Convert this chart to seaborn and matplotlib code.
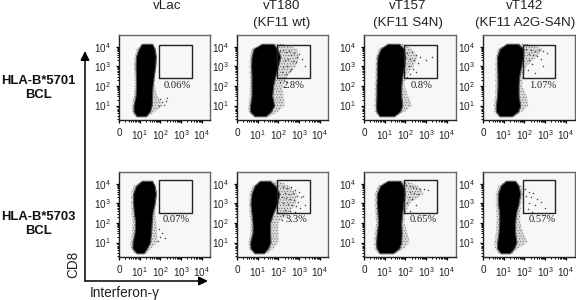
import matplotlib
matplotlib.use('Agg')
import matplotlib.pyplot as plt
from matplotlib.ticker import FixedLocator, NullFormatter
import numpy as np
import pandas as pd
import seaborn as sns

W, H = 576, 300

titles = ["vLac", "vT180\n(KF11 wt)", "vT157\n(KF11 S4N)", "vT142\n(KF11 A2G-S4N)"]
title_x = [167, 282, 408, 525]
row_names = ["HLA-B*5701\nBCL", "HLA-B*5703\nBCL"]
row_label_y = [88, 224]
panel_left = [119, 237, 364, 483]
panel_right = [210, 328, 456, 575]
panel_top = [35, 172]
panel_bottom = [120, 257]

percent_labels = [["0.06%", "2.8%", "0.8%", "1.07%"], ["0.07%", "3.3%", "0.65%", "0.57%"]]
percent_x = [[2.8, 2.75, 2.8, 2.9], [2.75, 2.85, 2.85, 2.85]]
percent_y = [2.0, 2.15]
gate_x = [[1.93, 3.52], [1.95, 3.53], [1.95, 3.54], [1.93, 3.5]]
gate_y = [[2.39, 4.1], [2.5, 4.19]]

# cd8 levels the (left, right) edges below were read at
cd8_levels = [4.15, 3.9, 3.5, 3, 2.5, 2, 1.5, 1, .7, .45]

# row 5701
halo_a1 = [(1.1,1.6),(.95,1.72),(.82,1.78),(.8,1.75),(.82,1.68),(.82,1.62),(.8,1.6),(.7,1.58),(.7,1.5),(.85,1.3)]
outer_a1 = [(1.2,1.55),(.85,1.78),(.75,1.82),(.72,1.8),(.75,1.75),(.75,1.72),(.72,1.85),(.62,2.1),(.62,1.75),(.75,1.4)]
halo_b1 = [(1.2,1.75),(.8,1.95),(.7,2.1),(.68,1.98),(.7,1.85),(.7,1.75),(.7,1.7),(.63,1.8),(.62,1.65),(.85,1.4)]
outer_b1 = [(1.3,2.2),(.72,2.9),(.62,3.0),(.6,2.85),(.62,2.45),(.62,2.2),(.6,2.25),(.55,2.3),(.55,2.0),(.75,1.6)]
halo_c1 = [(1.15,1.7),(.8,1.92),(.65,2.0),(.62,1.95),(.62,1.85),(.6,1.8),(.6,1.8),(.58,1.85),(.6,1.75),(.75,1.45)]
outer_c1 = [(1.2,1.9),(.7,2.3),(.58,2.6),(.55,2.4),(.55,2.0),(.52,1.95),(.52,2.15),(.5,2.3),(.52,2.0),(.7,1.55)]
halo_d1 = [(1.15,1.7),(.8,1.95),(.68,1.95),(.68,1.85),(.7,1.75),(.7,1.72),(.68,1.72),(.62,1.8),(.62,1.7),(.8,1.4)]
outer_d1 = [(1.2,2.1),(.72,2.9),(.62,2.6),(.6,2.1),(.6,1.95),(.6,1.9),(.58,2.1),(.52,2.2),(.55,1.9),(.7,1.55)]

# row 5703
halo_a2 = [(1.1,1.6),(.82,1.72),(.68,1.78),(.68,1.72),(.72,1.62),(.78,1.58),(.75,1.55),(.65,1.5),(.65,1.35),(.85,1.2)]
outer_a2 = [(1.2,1.55),(.72,1.78),(.58,1.85),(.58,1.8),(.6,1.75),(.65,1.8),(.62,1.85),(.55,1.85),(.55,1.55),(.75,1.35)]
halo_b2 = [(1.1,1.6),(.85,1.85),(.7,2.05),(.65,1.95),(.7,1.75),(.75,1.6),(.75,1.6),(.63,1.62),(.65,1.5),(.85,1.3)]
outer_b2 = [(1.2,2.0),(.75,2.5),(.6,2.9),(.58,2.85),(.6,2.5),(.65,2.0),(.65,2.0),(.55,2.0),(.58,1.75),(.78,1.5)]
halo_c2 = [(1.15,1.75),(.78,1.9),(.62,1.98),(.62,1.9),(.65,1.85),(.68,1.8),(.62,1.82),(.58,1.8),(.6,1.7),(.75,1.4)]
outer_c2 = [(1.25,2.0),(.68,2.6),(.52,2.9),(.52,2.2),(.55,2.0),(.58,1.95),(.52,2.1),(.48,2.2),(.5,1.95),(.65,1.55)]
halo_d2 = [(1.1,1.55),(.85,1.72),(.72,1.8),(.72,1.72),(.78,1.6),(.78,1.55),(.75,1.55),(.68,1.62),(.68,1.5),(.85,1.3)]
outer_d2 = [(1.2,1.5),(.75,1.85),(.62,1.95),(.62,1.85),(.65,1.8),(.65,1.8),(.62,1.95),(.55,2.15),(.58,1.7),(.75,1.45)]

# single events outside the main population
stray_ifn_b1 = [2.1, 2.2, 2.35, 2.5, 2.6, 2.75, 2.9, 3.0, 3.15, 2.3, 2.45, 2.7, 2.85, 2.2, 2.4, 2.6, 2.15, 2.35, 2.55, 2.25, 2.1, 2.4, 3.3]
stray_cd8_b1 = [3.8, 3.85, 3.75, 3.8, 3.6, 3.7, 3.5, 3.65, 3.4, 3.3, 3.4, 3.25, 3.2, 2.95, 3.0, 2.85, 2.7, 2.6, 2.75, 2.4, 2.2, 2.2, 3.0]
stray_ifn_c1 = [2.1, 2.3, 2.5, 2.7, 2.2, 2.4, 2.6, 3.0, 2.15, 2.35, 2.2, 2.5, 3.3, 2.1]
stray_cd8_c1 = [3.7, 3.75, 3.6, 3.5, 3.35, 3.3, 3.15, 3.3, 3.0, 2.85, 2.6, 2.7, 3.5, 2.45]
stray_ifn_d1 = [2.1, 2.3, 2.5, 2.7, 2.9, 3.1, 2.2, 2.4, 2.6, 2.8, 2.2, 2.35, 2.15, 2.5, 2.9]
stray_cd8_d1 = [3.9, 3.85, 3.8, 3.85, 3.8, 3.7, 3.65, 3.6, 3.55, 3.4, 3.3, 3.1, 2.8, 2.65, 3.0]
stray_ifn_a1 = [2.0, 2.1, 2.25, 2.15, 1.95, 2.3]
stray_cd8_a1 = [1.35, 1.2, 1.25, 1.05, 1.0, 1.4]
stray_ifn_b2 = [2.2, 2.4, 2.6, 2.8, 3.0, 3.2, 2.3, 2.5, 2.7, 2.9, 3.1, 2.15, 2.35, 2.55, 2.75, 2.95, 2.2, 2.45, 2.65, 2.85, 3.05, 2.3, 2.55, 2.8, 2.2, 2.4, 2.15, 3.3]
stray_cd8_b2 = [3.85, 3.8, 3.85, 3.7, 3.6, 3.4, 3.55, 3.5, 3.55, 3.4, 3.3, 3.3, 3.25, 3.2, 3.15, 3.05, 3.0, 2.95, 2.9, 2.85, 2.75, 2.65, 2.6, 2.55, 2.4, 2.3, 2.15, 2.9]
stray_ifn_c2 = [2.05, 2.2, 2.35, 2.5, 2.7, 2.9, 3.1, 2.2, 2.4, 2.6, 2.15, 2.3, 2.1, 2.5, 2.2]
stray_cd8_c2 = [3.95, 3.9, 3.85, 3.8, 3.75, 3.75, 3.7, 3.6, 3.55, 3.5, 3.3, 3.2, 3.0, 2.9, 2.6]
stray_ifn_d2 = [2.05, 2.2, 2.4, 2.1, 2.3, 2.6, 2.2, 2.5, 2.15, 2.8, 2.35, 3.0]
stray_cd8_d2 = [3.75, 3.6, 3.55, 3.35, 3.3, 3.2, 3.0, 2.9, 2.7, 3.05, 2.55, 2.75]
stray_ifn_a2 = [1.95, 2.1, 2.0, 2.2, 1.9]
stray_cd8_a2 = [1.7, 1.5, 1.3, 1.25, 1.1]

populations = [
    [(halo_a1, outer_a1, stray_ifn_a1, stray_cd8_a1), (halo_b1, outer_b1, stray_ifn_b1, stray_cd8_b1),
     (halo_c1, outer_c1, stray_ifn_c1, stray_cd8_c1), (halo_d1, outer_d1, stray_ifn_d1, stray_cd8_d1)],
    [(halo_a2, outer_a2, stray_ifn_a2, stray_cd8_a2), (halo_b2, outer_b2, stray_ifn_b2, stray_cd8_b2),
     (halo_c2, outer_c2, stray_ifn_c2, stray_cd8_c2), (halo_d2, outer_d2, stray_ifn_d2, stray_cd8_d2)],
]

major_ticks = [0, 1, 2, 3, 4]
major_labels = ["0", r"$\mathregular{10^{1}}$", r"$\mathregular{10^{2}}$", r"$\mathregular{10^{3}}$", r"$\mathregular{10^{4}}$"]
minor_steps = [2, 3, 4, 5, 6, 7, 8, 9]

X_DECADE = 20.7
Y_TOP = 4.6
Y_BOTTOM = 0.26

sns.set_style("ticks")
plt.rcParams['font.family'] = ['Liberation Sans', 'DejaVu Sans']
plt.rcParams['mathtext.default'] = 'regular'
plt.rcParams['hatch.linewidth'] = 0.2


def fx(px):
    return px / W


def fy(px):
    return 1 - px / H


def draw_panel(ax, row, col, width_px):
    halo, outer, stray_ifn, stray_cd8 = populations[row][col]
    ax.set_facecolor("#f7f7f7")
    ax.set_xlim(0, width_px / X_DECADE)
    ax.set_ylim(Y_BOTTOM, Y_TOP)
    ax.fill_betweenx(cd8_levels, [p[0] for p in outer], [p[1] for p in outer],
                     facecolor="#d8d8d8", edgecolor="#333333", hatch="......", linewidth=0)
    ax.fill_betweenx(cd8_levels, [p[0] for p in halo], [p[1] for p in halo],
                     facecolor="black", edgecolor="#555555", linewidth=0.8)
    stray = pd.DataFrame({"ifn": stray_ifn, "cd8": stray_cd8})
    sns.scatterplot(data=stray, x="ifn", y="cd8", s=1.2, color="#444444", linewidth=0, legend=False, ax=ax)
    ax.set_xlabel("")
    ax.set_ylabel("")
    ax.plot([gate_x[col][0], gate_x[col][1], gate_x[col][1], gate_x[col][0], gate_x[col][0]],
            [gate_y[row][0], gate_y[row][0], gate_y[row][1], gate_y[row][1], gate_y[row][0]],
            color="#222222", lw=1.0, solid_joinstyle="miter")
    ax.text(percent_x[row][col], percent_y[row], percent_labels[row][col], family="Liberation Serif",
            fontsize=7.6, color="#222222", ha="center", va="center")

    minor = [d + np.log10(s) for d in [0, 1, 2, 3] for s in minor_steps]
    ax.set_xticks(major_ticks)
    ax.set_xticklabels(major_labels, fontsize=7.2, color="#222222")
    ax.set_yticks(major_ticks[1:])
    ax.set_yticklabels(major_labels[1:], fontsize=7.2, color="#222222")
    ax.xaxis.set_minor_locator(FixedLocator(minor))
    ax.yaxis.set_minor_locator(FixedLocator([m for m in minor if m > Y_BOTTOM]))
    ax.xaxis.set_minor_formatter(NullFormatter())
    ax.yaxis.set_minor_formatter(NullFormatter())
    ax.tick_params(axis="both", which="major", length=2.4, width=0.9, pad=3.5, color="black")
    ax.tick_params(axis="both", which="minor", length=1.3, width=0.7, color="black")
    for side, spine in ax.spines.items():
        spine.set_visible(True)
        spine.set_linewidth(1.0)
        spine.set_color("#666666" if side in ("top", "right") else "#222222")


fig = plt.figure(figsize=(W / 100, H / 100), dpi=100)
fig.patch.set_facecolor("white")

for row in range(2):
    for col in range(4):
        left, right = panel_left[col], panel_right[col]
        top, bottom = panel_top[row], panel_bottom[row]
        ax = fig.add_axes([fx(left), fy(bottom), fx(right - left), (bottom - top) / H])
        draw_panel(ax, row, col, right - left)

for col in range(4):
    parts = titles[col].split("\n")
    for i, part in enumerate(parts):
        fig.text(fx(title_x[col]), fy(6 + i * 17), part, fontsize=9.6, color="#222222", ha="center", va="center")

for row in range(2):
    fig.text(fx(38), fy(row_label_y[row]), row_names[row], fontsize=9.4, fontweight="bold",
             ha="center", va="center", linespacing=1.25, color="#111111")

overlay = fig.add_axes([0, 0, 1, 1], facecolor="none")
overlay.set_xlim(0, W)
overlay.set_ylim(H, 0)
overlay.axis("off")
arrow = dict(arrowstyle="-|>,head_length=0.45,head_width=0.22", color="black", lw=1.1, shrinkA=0, shrinkB=0, mutation_scale=12)
overlay.annotate("", xy=(85, 51), xytext=(85, 281), arrowprops=arrow)
overlay.annotate("", xy=(208, 281), xytext=(85, 281), arrowprops=arrow)
overlay.text(73, 264, "CD8", rotation=90, fontsize=9.8, color="#222222", ha="center", va="center")
overlay.text(90, 293, "Interferon-\u03b3", fontsize=9.8, color="#222222", ha="left", va="center")

fig.savefig("out.png", dpi=100)
